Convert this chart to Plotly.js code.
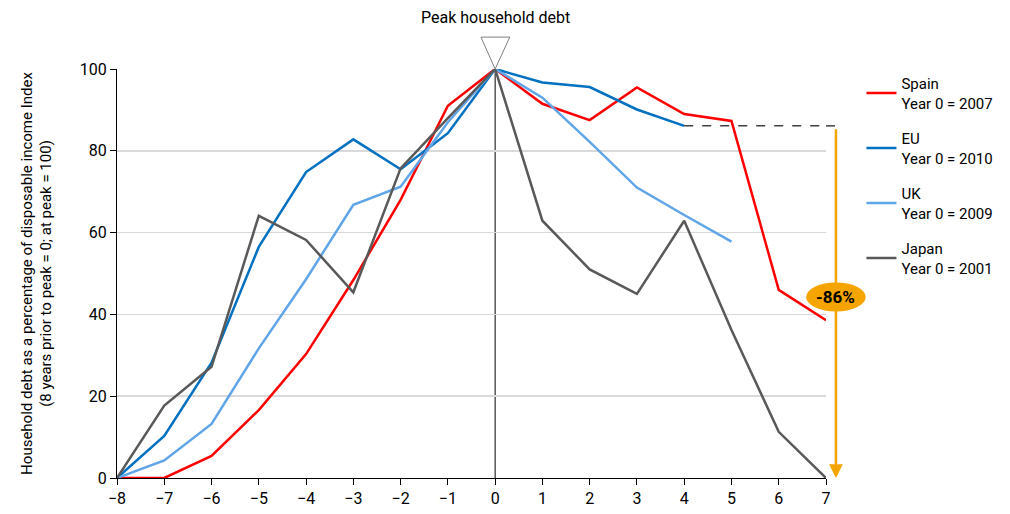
<!DOCTYPE html>
<html>
<head>
<meta charset="utf-8">
<script src="https://cdn.plot.ly/plotly-3.0.1.min.js"></script>
<style>
  body { margin: 0; background: #fff; }
  #chart { width: 1010px; height: 514px; }
</style>
</head>
<body>
<div id="chart"></div>
<script>
// years relative to peak
const years = [-8, -7, -6, -5, -4, -3, -2, -1, 0, 1, 2, 3, 4, 5, 6, 7]
const spain = [0, 0, 5.4, 16.6, 30.3, 48.4, 68, 91, 100, 91.5, 87.5, 95.5, 89, 87.3, 46, 38.6]
const eu = [0, 10.3, 28.2, 56.5, 74.8, 82.8, 75.5, 84.3, 100, 96.7, 95.6, 90.1, 86.1]
const uk = [0, 4.3, 13.2, 31.7, 48.6, 66.8, 71.2, 87, 100, 93, 82.2, 71, 64.3, 57.8]
const japan = [0, 17.7, 27.2, 64.1, 58.2, 45.4, 75.7, 88, 100, 62.9, 51, 45, 62.9, 36.2, 11.3, 0]
const names = ['Spain<br>Year 0 = 2007', 'EU<br>Year 0 = 2010', 'UK<br>Year 0 = 2009', 'Japan<br>Year 0 = 2001']
const colors = ['#ff0000', '#0070c0', '#5fa5e8', '#595959']
const eu_last = 86.1
const drop_label = '-86%'

const font = 'Roboto, Liberation Sans, sans-serif'

const series = [spain, eu, uk, japan]
const data = []
series.forEach((s, i) => {
    data.push({
        type: 'scatter',
        mode: 'lines',
        x: years.slice(0, s.length),
        y: s,
        name: names[i],
        legendgroup: 'g' + i,
        line: {color: colors[i], width: 2.5}
    })
})

var layout = {
    width: 1010,
    height: 514,
    margin: {l: 117, r: 184, t: 69, b: 36},
    paper_bgcolor: '#fff',
    plot_bgcolor: '#fff',
    font: {family: font, size: 15, color: '#000'},
    showlegend: true,
    legend: {
        x: 1.05, y: 1.005, xanchor: 'left', yanchor: 'top',
        font: {family: font, size: 15, color: '#000'},
        tracegroupgap: 13,
        itemwidth: 30,
        bgcolor: 'rgba(0,0,0,0)'
    },
    xaxis: {
        range: [-8, 7],
        tickvals: years,
        ticks: 'outside', ticklen: 6, tickcolor: '#000',
        showgrid: false, zeroline: false,
        showline: true, linecolor: '#000', linewidth: 1,
        tickfont: {family: font, size: 16},
        fixedrange: true
    },
    yaxis: {
        range: [0, 100],
        tickvals: [0, 20, 40, 60, 80, 100],
        ticks: 'outside', ticklen: 6, tickcolor: '#000',
        showgrid: true, gridcolor: '#d9d9d9', gridwidth: 1.5,
        zeroline: false,
        showline: true, linecolor: '#000', linewidth: 1,
        tickfont: {family: font, size: 16},
        title: {
            text: 'Household debt as a percentage of disposable income Index<br>(8 years prior to peak = 0; at peak = 100)',
            font: {family: font, size: 15},
            standoff: 24
        }
    },
    shapes: [
        {type: 'line', xref: 'x', yref: 'y', x0: 0, x1: 0, y0: 0, y1: 100, line: {color: '#000', width: 1}, layer: 'below'},
        {type: 'line', xref: 'x', yref: 'y', x0: 4, x1: 7, y0: eu_last, y1: eu_last, line: {color: '#404040', width: 1.5, dash: 'dash'}},
        {type: 'line', xref: 'paper', yref: 'y', x0: 1.0, x1: 1.021, y0: eu_last, y1: eu_last, line: {color: '#404040', width: 1.5, dash: 'dash'}},
        {type: 'circle', xref: 'paper', yref: 'y', x0: 0.972, x1: 1.056, y0: 40.7, y1: 47.8, fillcolor: '#f5a400', line: {width: 0}, layer: 'above'},
        // peak marker (open triangle above x = 0)
        {type: 'path', xref: 'x', yref: 'paper', path: 'M -0.3 1.078 L 0.31 1.078 L 0 1.0 Z', line: {color: '#7f7f7f', width: 1}}
    ],
    annotations: [
        {
            xref: 'paper', yref: 'y', x: 1.014, y: 0,
            ax: 0, ay: -eu_last * 4.09 + 2, axref: 'pixel', ayref: 'pixel',
            showarrow: true, arrowhead: 2, arrowsize: 1.1, arrowwidth: 2.5, arrowcolor: '#f5a400',
            text: ''
        },
        {
            xref: 'paper', yref: 'y', x: 1.014, y: 44.25, xanchor: 'center', yanchor: 'middle',
            showarrow: false, text: '<b>' + drop_label + '</b>',
            font: {family: font, size: 17, color: '#000'}
        },
        {
            xref: 'x', yref: 'paper', x: 0, y: 1.125, yanchor: 'middle',
            showarrow: false, text: 'Peak household debt',
            font: {family: font, size: 16, color: '#000'}
        }
    ]
}

Plotly.newPlot('chart', data, layout, {displayModeBar: false, staticPlot: true})
</script>
</body>
</html>
